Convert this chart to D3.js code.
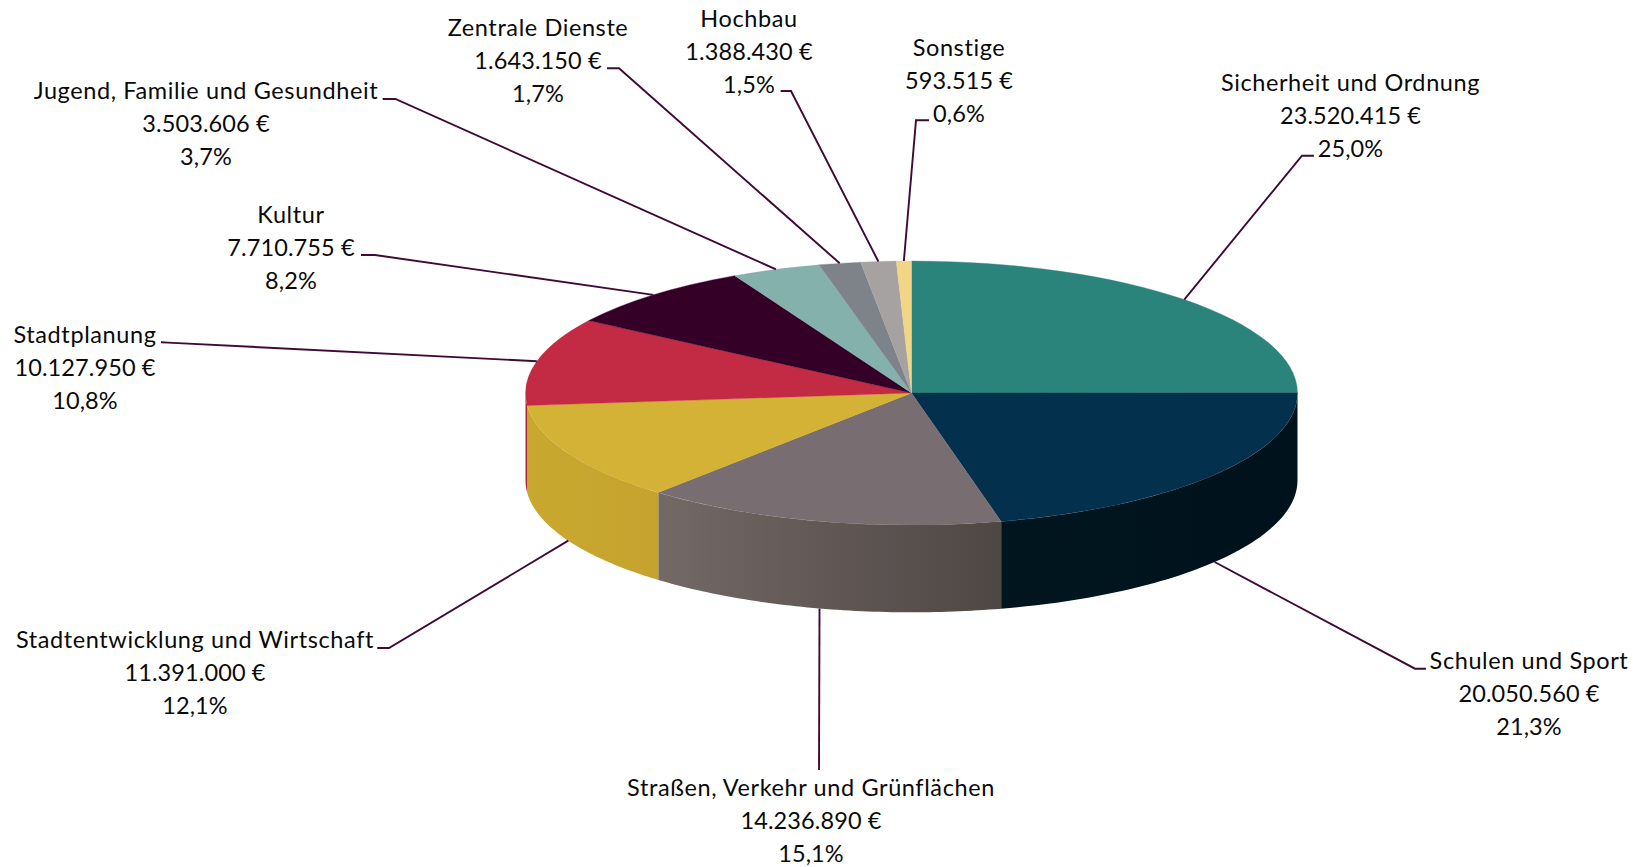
<!DOCTYPE html>
<html lang="de">
<head>
<meta charset="utf-8">
<title>Budget</title>
<script src="https://cdn.jsdelivr.net/npm/d3@7"></script>
<style>
html,body{margin:0;padding:0;background:#fff;}
svg{display:block;}
text{font-family:Lato,"Open Sans",sans-serif;font-size:23.5px;fill:#0a0a0a;text-anchor:middle;letter-spacing:.12px;}
text.name{letter-spacing:.6px;}
</style>
</head>
<body>
<svg id="chart" width="1633" height="867"></svg>
<script>
const categories = ["Sicherheit und Ordnung","Schulen und Sport","Straßen, Verkehr und Grünflächen","Stadtentwicklung und Wirtschaft","Stadtplanung","Kultur","Jugend, Familie und Gesundheit","Zentrale Dienste","Hochbau","Sonstige"];
const values = [23520415,20050560,14236890,11391000,10127950,7710755,3503606,1643150,1388430,593515];
const amountLabels = ["23.520.415 €","20.050.560 €","14.236.890 €","11.391.000 €","10.127.950 €","7.710.755 €","3.503.606 €","1.643.150 €","1.388.430 €","593.515 €"];
const percentLabels = ["25,0%","21,3%","15,1%","12,1%","10,8%","8,2%","3,7%","1,7%","1,5%","0,6%"];

const topColors = ["#2b847b","#03314d","#786d70","#d4b235","#c32b44","#340027","#85b1ac","#7e8389","#a6a2a2","#f3d586"];
const wallLeftColors = ["#1d5a54","#00161f","#736967","#c9a82f","#a82a3c","#22001a","#5f807c","#5a5e63","#787575","#b09b60"];
const wallRightColors = ["#1d5a54","#00121c","#4e4744","#c5a32e","#a82a3c","#22001a","#5f807c","#5a5e63","#787575","#b09b60"];

// label layout: centre x, first baseline y, leader start, leader elbow
const labelX = [1350.5,1529,811,195,85,291,206,538,749,959];
const labelY = [91,668.5,796,648.3,343.3,223,98.6,36,27,56.3];
const leaderStart = [[1314,155.7],[1426,668.7],[819,770],[377.3,648],[161,342.3],[361,255],[382.6,99],[607,68.3],[780.6,91],[929,120.3]];
const leaderElbow = [[1302,155.7],[1415,668.7],[819,770],[389,648],[168,342.6],[375,255],[395.4,99],[619,68.3],[791,91],[916,120.3]];

const cx = 911.5, cy = 393, rx = 386, ry = 132, depth = 87.3, lineGap = 33;
const svg = d3.select("#chart");
const defs = svg.append("defs");

const pie = d3.pie().sort(null).startAngle(0).endAngle(2*Math.PI);
const slices = pie(values);
const ex = a => cx + rx*Math.sin(a);
const ey = (a,d=0) => cy - ry*Math.cos(a) + d;

// side wall (only the front half, PI/2..3PI/2)
const line = d3.line();
const wallGroup = svg.append("g");
slices.forEach((s,i)=>{
  const a0 = Math.max(s.startAngle, Math.PI/2), a1 = Math.min(s.endAngle, 3*Math.PI/2);
  if (a1 <= a0) return;
  const n = 60, ts = d3.range(n+1).map(k => a0 + (a1-a0)*k/n);
  const upper = ts.map(t => [ex(t), ey(t)]);
  const lower = ts.slice().reverse().map(t => [ex(t), ey(t,depth)]);
  const xs = d3.extent(upper, p=>p[0]);
  const gid = "wall"+i;
  const g = defs.append("linearGradient").attr("id",gid).attr("gradientUnits","userSpaceOnUse")
    .attr("x1",xs[0]).attr("x2",xs[1]).attr("y1",0).attr("y2",0);
  g.append("stop").attr("offset",0).attr("stop-color",wallLeftColors[i]);
  g.append("stop").attr("offset",1).attr("stop-color",wallRightColors[i]);
  wallGroup.append("path").attr("d", line(upper.concat(lower))+"Z").attr("fill",`url(#${gid})`);
});

// top face: d3.arc circle squashed to the tilt
const arc = d3.arc().innerRadius(0).outerRadius(rx);
svg.append("g").attr("transform",`translate(${cx},${cy}) scale(1,${ry/rx})`)
  .selectAll("path").data(slices).join("path")
  .attr("d",arc).attr("fill",(d,i)=>topColors[i])
  .attr("stroke",(d,i)=>topColors[i]).attr("stroke-width",0.5);

// leaders end at each slice's mid-angle on the rim (wall bottom for front slices)
const leaders = svg.append("g").attr("fill","none").attr("stroke","#3f0a36").attr("stroke-width",1.9);
slices.forEach((s,i)=>{
  const m = (s.startAngle+s.endAngle)/2;
  const front = Math.cos(m) < -0.05;
  const end = [ex(m), ey(m, front ? depth : 0)];
  leaders.append("path").attr("d", line([leaderStart[i],leaderElbow[i],end]));
});

// labels
const labels = svg.append("g");
categories.forEach((c,i)=>{
  [c,amountLabels[i],percentLabels[i]].forEach((t,k)=>{
    labels.append("text").attr("class",k===0?"name":null)
      .attr("x",labelX[i]).attr("y",labelY[i]+k*lineGap).text(t);
  });
});
</script>
</body>
</html>
